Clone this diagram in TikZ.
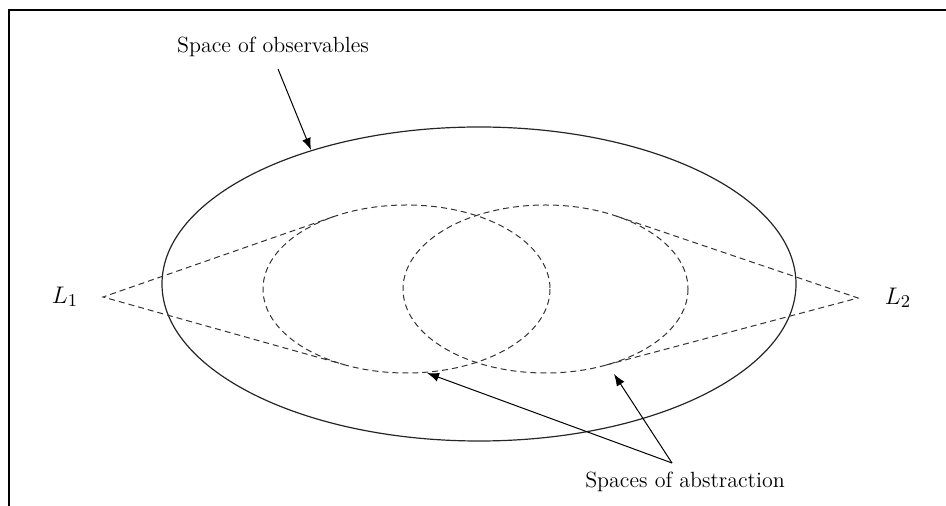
\documentclass[tikz,border=0pt]{standalone}
\usetikzlibrary{calc,arrows,arrows.meta}
\begin{document}
\begin{tikzpicture}[x=0.5pt,y=-0.5pt,
  lbl/.style={font=\fontsize{11}{13}\selectfont, inner sep=0pt},
  abst/.style={dash pattern=on 3pt off 2pt, line width=0.5pt, black!80},
  ptr/.style={-{Latex[length=6pt,width=4.5pt]}, line width=0.5pt}]
\useasboundingbox (0,0) rectangle (946,506);
\draw[line width=1.1pt] (9,506) -- (9,10) -- (946,10); % frame

\coordinate (obs) at (479,284);
\coordinate (absl) at (406.5,289);
\coordinate (absr) at (545.5,289);
\coordinate (apexl) at (103,297);
\coordinate (apexr) at (858,298);

\draw[line width=0.6pt, black!85] (obs) ellipse [x radius=317, y radius=157];
\draw[abst] (absl) ellipse [x radius=143.5, y radius=84];
\draw[abst] (absr) ellipse [x radius=142.5, y radius=84];

% tangents from L1 and L2
\coordinate (tlu) at ($(absl)+(239.2:143.5 and 84)$);
\coordinate (tld) at ($(absl)+(115.6:143.5 and 84)$);
\coordinate (tru) at ($(absr)+(-60.1:142.5 and 84)$);
\coordinate (trd) at ($(absr)+(65.7:142.5 and 84)$);
\draw[abst] (tlu) -- (apexl) -- (tld);
\draw[abst] (tru) -- (apexr) -- (trd);

\node[lbl,font=\fontsize{13}{15}\selectfont] (lone) at (65,297) {$L_1$};
\node[lbl,font=\fontsize{13}{15}\selectfont] (ltwo) at (898,298) {$L_2$};

\node[lbl] (obstext) at (273,47) {Space of observables};
\coordinate (obsfoot) at (278,69);
\coordinate (obstip) at (311,150);
\draw[ptr] (obsfoot) -- (obstip);

\node[lbl] (abstext) at (685,482) {Spaces of abstraction};
\coordinate (absfoot) at (672,463);
\coordinate (absltip) at (427,373);
\coordinate (absrtip) at (614,374);
\draw[ptr] (absfoot) -- (absltip);
\draw[ptr] (absfoot) -- (absrtip);
\end{tikzpicture}
\end{document}
